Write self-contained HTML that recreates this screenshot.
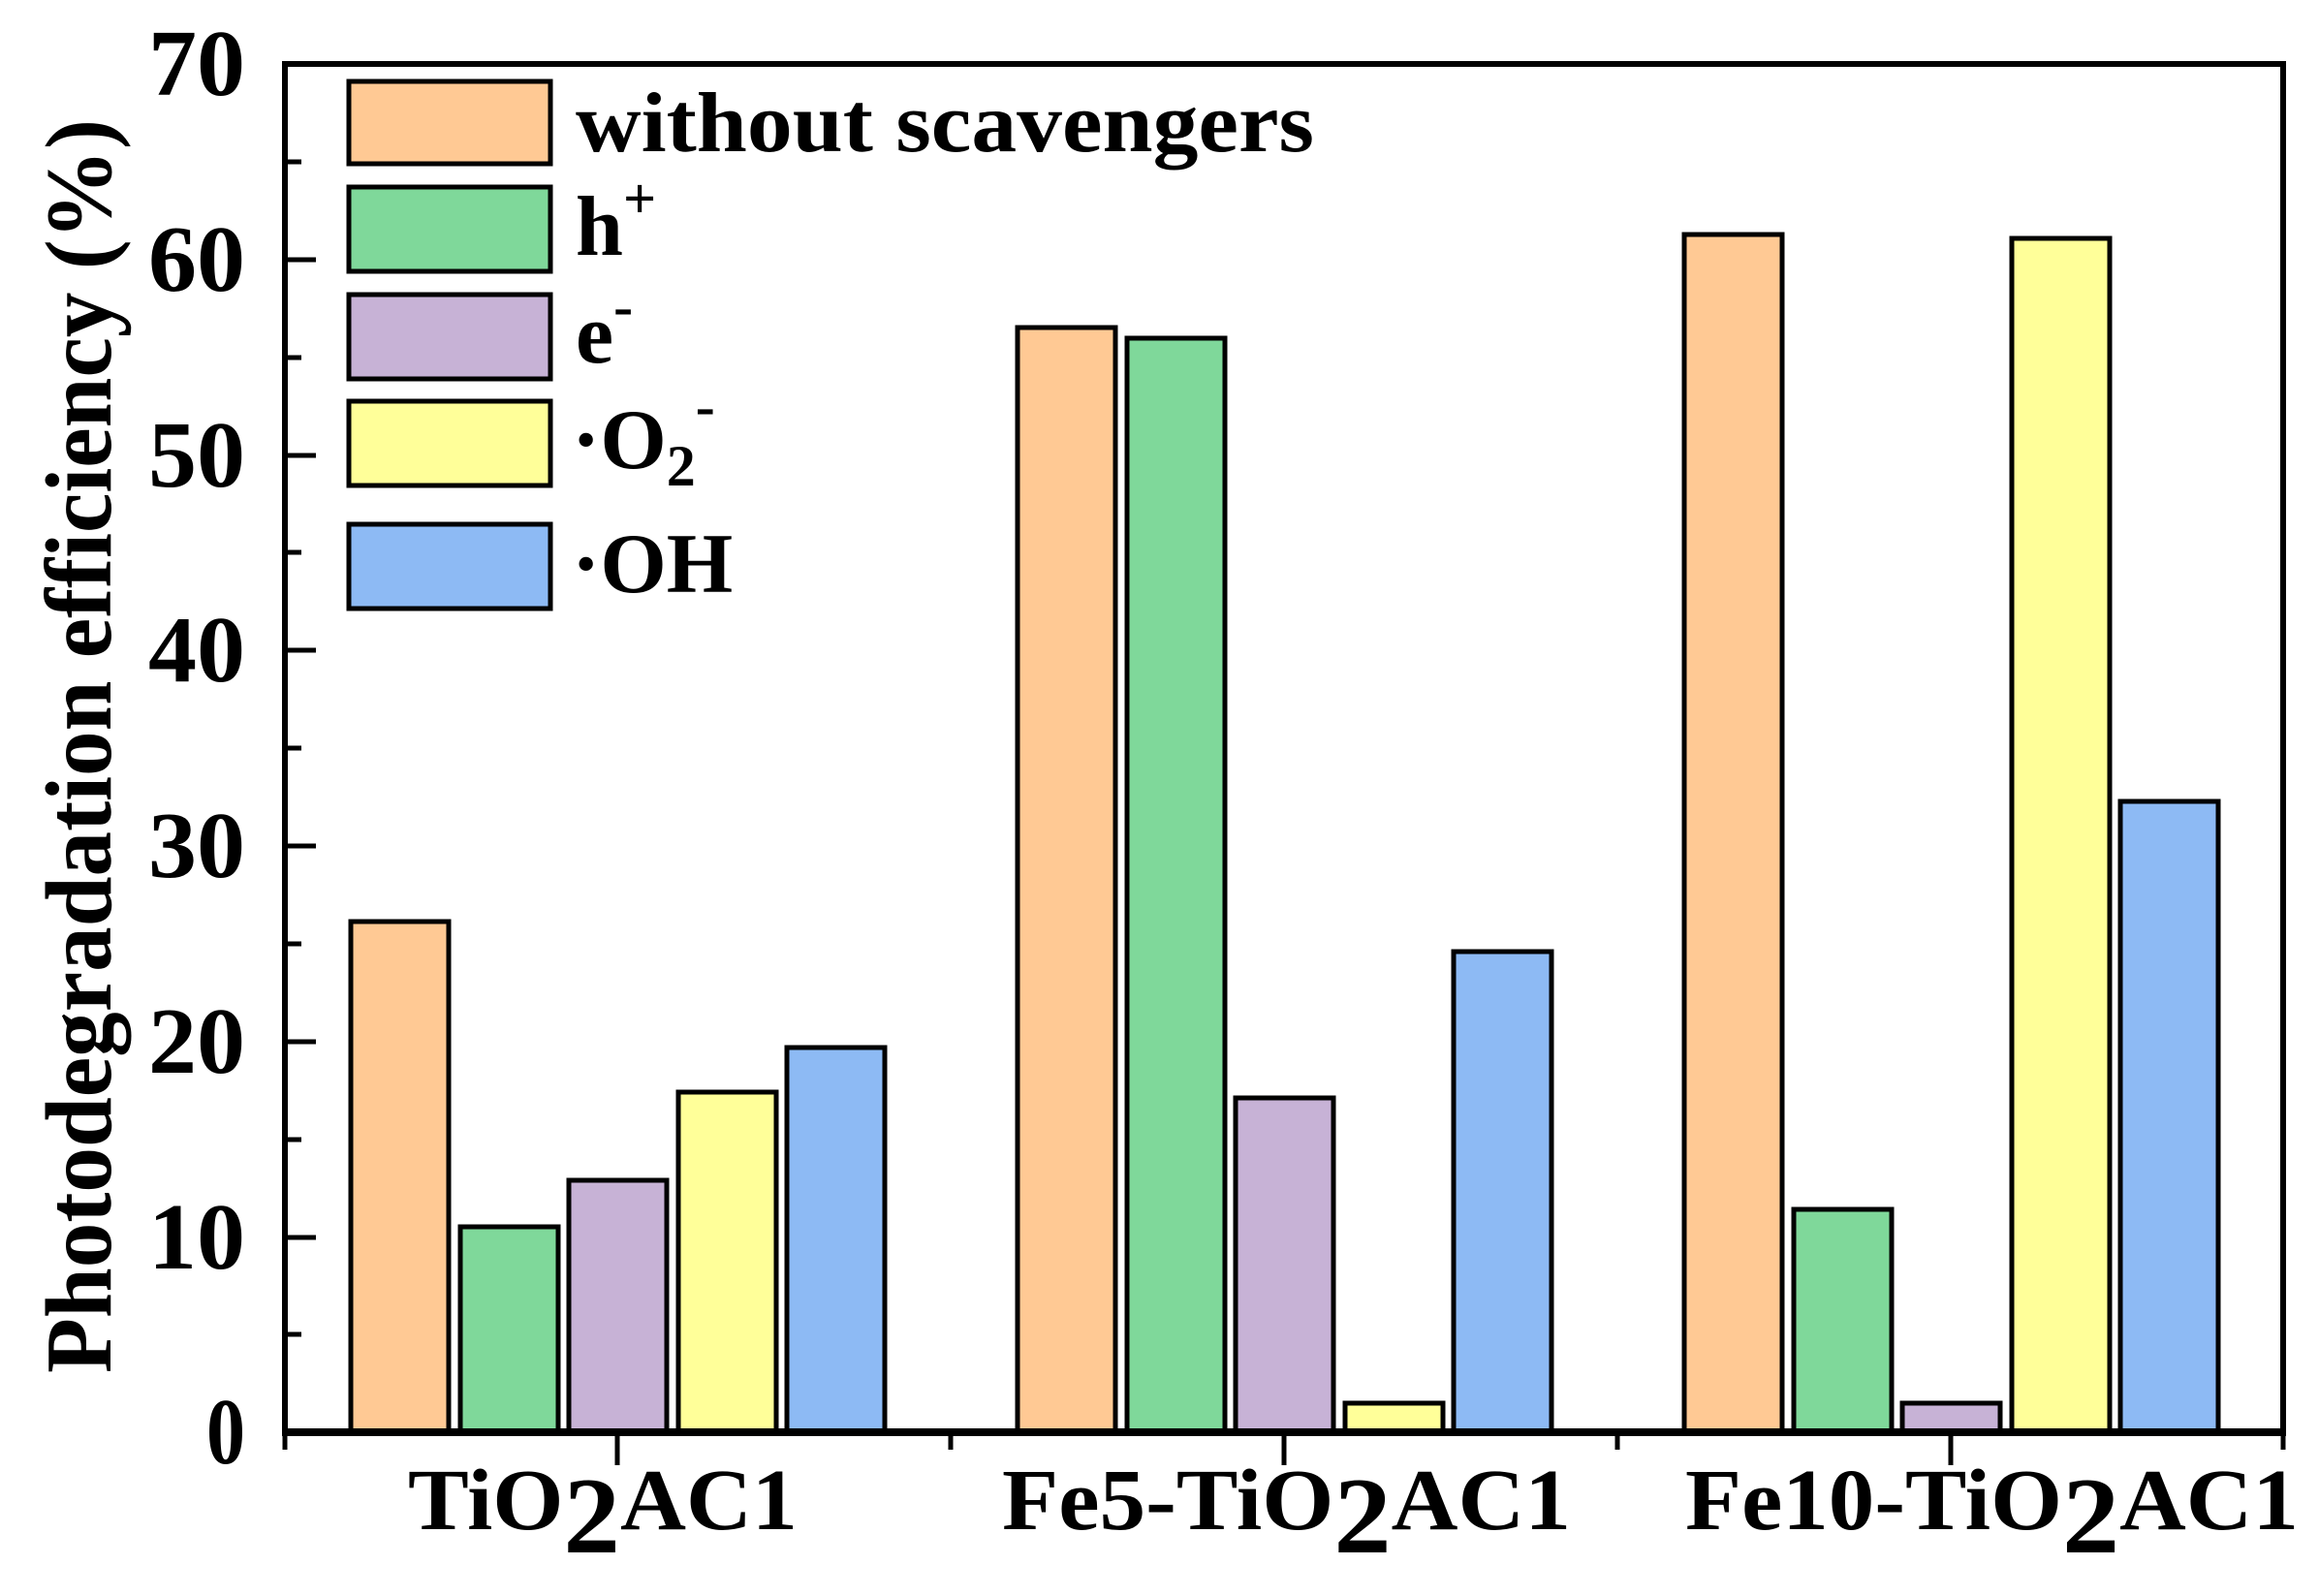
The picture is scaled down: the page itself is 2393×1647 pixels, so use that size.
<!DOCTYPE html>
<html><head><meta charset="utf-8"><style>html,body{margin:0;padding:0;background:#fff}svg{display:block}text{font-family:"Liberation Serif","Times New Roman",serif;font-weight:bold}</style></head>
<body>
<svg width="2393" height="1647" viewBox="0 0 2393 1647" xmlns="http://www.w3.org/2000/svg">
<rect width="2393" height="1647" fill="#fff"/>
<g stroke="#000" stroke-width="5">
<rect x="362" y="951" width="101" height="527" fill="#FFC994"/>
<rect x="475" y="1266" width="101" height="212" fill="#7FD89A"/>
<rect x="587" y="1218" width="101" height="260" fill="#C7B2D6"/>
<rect x="700" y="1127" width="101" height="351" fill="#FFFF99"/>
<rect x="812" y="1081" width="101" height="397" fill="#8DBAF4"/>
<rect x="1050" y="338" width="101" height="1140" fill="#FFC994"/>
<rect x="1163" y="349" width="101" height="1129" fill="#7FD89A"/>
<rect x="1275" y="1133" width="101" height="345" fill="#C7B2D6"/>
<rect x="1388" y="1448" width="101" height="30" fill="#FFFF99"/>
<rect x="1500" y="982" width="101" height="496" fill="#8DBAF4"/>
<rect x="1738" y="242" width="101" height="1236" fill="#FFC994"/>
<rect x="1851" y="1248" width="101" height="230" fill="#7FD89A"/>
<rect x="1963" y="1448" width="101" height="30" fill="#C7B2D6"/>
<rect x="2076" y="246" width="101" height="1232" fill="#FFFF99"/>
<rect x="2188" y="827" width="101" height="651" fill="#8DBAF4"/>
<rect x="360" y="84" width="208" height="85" fill="#FFC994"/>
<rect x="360" y="193" width="208" height="87" fill="#7FD89A"/>
<rect x="360" y="304" width="208" height="87" fill="#C7B2D6"/>
<rect x="360" y="414" width="208" height="87" fill="#FFFF99"/>
<rect x="360" y="541" width="208" height="87" fill="#8DBAF4"/>
</g>
<rect x="294" y="66" width="2062" height="1412" fill="none" stroke="#000" stroke-width="6"/>
<line x1="291" y1="1478" x2="2359" y2="1478" stroke="#000" stroke-width="8"/>
<g stroke="#000" stroke-width="5">
<line x1="294" y1="1277" x2="326" y2="1277"/><line x1="294" y1="1075" x2="326" y2="1075"/>
<line x1="294" y1="873" x2="326" y2="873"/><line x1="294" y1="671" x2="326" y2="671"/>
<line x1="294" y1="470" x2="326" y2="470"/><line x1="294" y1="268" x2="326" y2="268"/>
<line x1="294" y1="1377" x2="311" y2="1377"/><line x1="294" y1="1176" x2="311" y2="1176"/>
<line x1="294" y1="974" x2="311" y2="974"/><line x1="294" y1="772" x2="311" y2="772"/>
<line x1="294" y1="570" x2="311" y2="570"/><line x1="294" y1="369" x2="311" y2="369"/>
<line x1="294" y1="167" x2="311" y2="167"/>
<line x1="637" y1="1478" x2="637" y2="1512"/><line x1="1325" y1="1478" x2="1325" y2="1512"/><line x1="2013" y1="1478" x2="2013" y2="1512"/>
<line x1="294" y1="1478" x2="294" y2="1496"/><line x1="981" y1="1478" x2="981" y2="1496"/><line x1="1669" y1="1478" x2="1669" y2="1496"/><line x1="2356" y1="1478" x2="2356" y2="1496"/>
</g>
<g font-size="98" text-anchor="end">
<text x="253" y="1510" textLength="40" lengthAdjust="spacingAndGlyphs">0</text>
<text x="253" y="1309" textLength="100" lengthAdjust="spacingAndGlyphs">10</text>
<text x="253" y="1107" textLength="100" lengthAdjust="spacingAndGlyphs">20</text>
<text x="253" y="905" textLength="100" lengthAdjust="spacingAndGlyphs">30</text>
<text x="253" y="703" textLength="100" lengthAdjust="spacingAndGlyphs">40</text>
<text x="253" y="502" textLength="100" lengthAdjust="spacingAndGlyphs">50</text>
<text x="253" y="300" textLength="100" lengthAdjust="spacingAndGlyphs">60</text>
<text x="253" y="98" textLength="100" lengthAdjust="spacingAndGlyphs">70</text>
</g>
<text transform="translate(114,770) rotate(-90)" font-size="98" text-anchor="middle" textLength="1294" lengthAdjust="spacingAndGlyphs">Photodegradation efficiency (%)</text>
<g font-size="88">
<text x="594" y="156" textLength="762" lengthAdjust="spacingAndGlyphs">without scavengers</text>
<text x="594" y="263">h<tspan font-size="60" dy="-38">+</tspan></text>
<text x="594" y="374">e<tspan font-size="60" dy="-38">-</tspan></text>
<text x="590" y="483">·O<tspan font-size="60" dy="18">2</tspan><tspan font-size="60" dy="-62">-</tspan></text>
<text x="590" y="611">·OH</text>
</g>
<g font-size="90">
<text x="421" y="1578" textLength="402" lengthAdjust="spacingAndGlyphs">TiO<tspan font-size="112" dy="24">2</tspan><tspan dy="-24">AC1</tspan></text>
<text x="1034" y="1578" textLength="587" lengthAdjust="spacingAndGlyphs">Fe5-TiO<tspan font-size="112" dy="24">2</tspan><tspan dy="-24">AC1</tspan></text>
<text x="1739" y="1578" textLength="633" lengthAdjust="spacingAndGlyphs">Fe10-TiO<tspan font-size="112" dy="24">2</tspan><tspan dy="-24">AC1</tspan></text>
</g>
</svg>
</body></html>
